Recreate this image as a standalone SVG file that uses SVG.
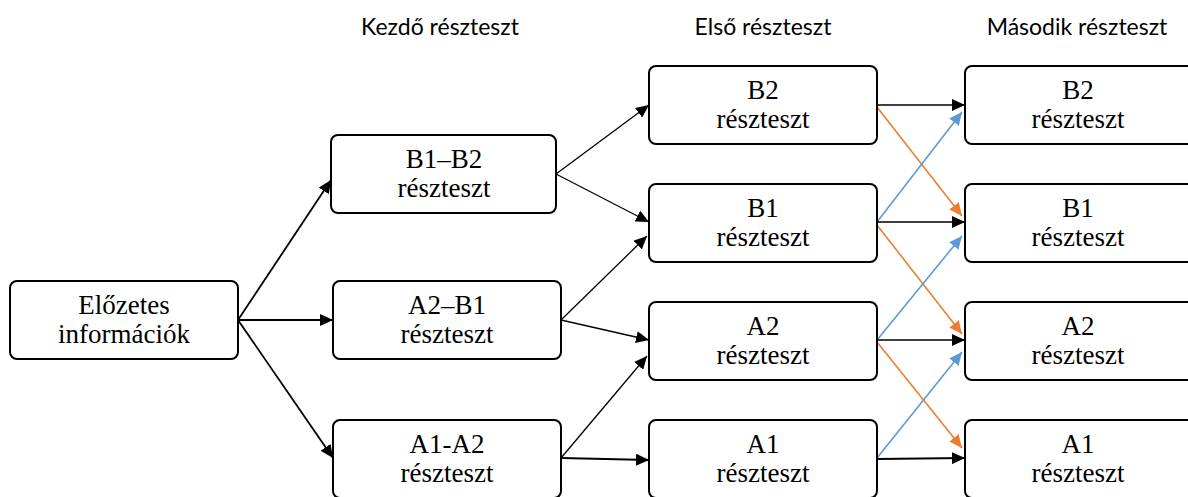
<svg xmlns="http://www.w3.org/2000/svg" width="1188" height="497" viewBox="0 0 1188 497">
<style>
.box{fill:#fff;stroke:#000;stroke-width:2}
.t{font-family:'Liberation Serif','Times New Roman',serif;font-size:27px;fill:#000;text-anchor:middle}
.h{font-family:Lato,'Liberation Sans',sans-serif;font-size:23px;fill:#000;text-anchor:middle}
.k{stroke:#000;stroke-width:1.8;fill:none}
.kt{stroke:#000;stroke-width:1.3;fill:none}
.o{stroke:#ED7D31;stroke-width:1.6;fill:none}
.b{stroke:#5B9BD5;stroke-width:1.6;fill:none}
</style>
<defs>
<marker id="ak" markerUnits="userSpaceOnUse" markerWidth="14" markerHeight="12" refX="13" refY="6" orient="auto"><path d="M0,0 L13,6 L0,12 z" fill="#000"/></marker>
<marker id="ao" markerUnits="userSpaceOnUse" markerWidth="14" markerHeight="12" refX="13" refY="6" orient="auto"><path d="M0,0 L13,6 L0,12 z" fill="#ED7D31"/></marker>
<marker id="ab" markerUnits="userSpaceOnUse" markerWidth="14" markerHeight="12" refX="13" refY="6" orient="auto"><path d="M0,0 L13,6 L0,12 z" fill="#5B9BD5"/></marker>
</defs>
<rect width="1188" height="497" fill="#fff"/>
<g id="headings">
<text class="h" x="440" y="35">Kezdő részteszt</text>
<text class="h" x="763" y="35">Első részteszt</text>
<text class="h" x="1077" y="35">Második részteszt</text>
</g>
<g id="connectors">
<line class="k" x1="238" y1="320" x2="331" y2="180" marker-end="url(#ak)"/>
<line class="k" x1="238" y1="320" x2="333" y2="320" marker-end="url(#ak)"/>
<line class="k" x1="238" y1="320" x2="333" y2="458" marker-end="url(#ak)"/>
<line class="kt" x1="556" y1="174" x2="649" y2="105" marker-end="url(#ak)"/>
<line class="kt" x1="556" y1="174" x2="649" y2="222" marker-end="url(#ak)"/>
<line class="kt" x1="561" y1="320" x2="647" y2="236" marker-end="url(#ak)"/>
<line class="kt" x1="561" y1="320" x2="649" y2="340" marker-end="url(#ak)"/>
<line class="kt" x1="561" y1="458" x2="647" y2="356" marker-end="url(#ak)"/>
<line class="k" x1="561" y1="458" x2="649" y2="460" marker-end="url(#ak)"/>
<line class="kt" x1="877" y1="105" x2="965" y2="105" marker-end="url(#ak)"/>
<line class="o" x1="877" y1="107" x2="962" y2="216" marker-end="url(#ao)"/>
<line class="b" x1="877" y1="222" x2="962" y2="112" marker-end="url(#ab)"/>
<line class="kt" x1="877" y1="222" x2="965" y2="222" marker-end="url(#ak)"/>
<line class="o" x1="877" y1="225" x2="962" y2="334" marker-end="url(#ao)"/>
<line class="b" x1="877" y1="340" x2="962" y2="236" marker-end="url(#ab)"/>
<line class="kt" x1="877" y1="340" x2="965" y2="340" marker-end="url(#ak)"/>
<line class="o" x1="877" y1="342" x2="962" y2="448" marker-end="url(#ao)"/>
<line class="b" x1="877" y1="458" x2="962" y2="352" marker-end="url(#ab)"/>
<line class="k" x1="877" y1="459" x2="965" y2="458" marker-end="url(#ak)"/>
</g>
<g id="elozetes"><rect class="box" x="10" y="281" width="228" height="78" rx="7"/><text class="t" x="124" y="314">Előzetes</text><text class="t" x="124" y="343">információk</text></g>
<g id="k-b1b2"><rect class="box" x="331" y="135" width="225" height="78" rx="7"/><text class="t" x="444" y="168">B1–B2</text><text class="t" x="444" y="197">részteszt</text></g>
<g id="k-a2b1"><rect class="box" x="333" y="281" width="228" height="78" rx="7"/><text class="t" x="447" y="314">A2–B1</text><text class="t" x="447" y="343">részteszt</text></g>
<g id="k-a1a2"><rect class="box" x="333" y="420" width="228" height="78" rx="7"/><text class="t" x="447" y="453">A1-A2</text><text class="t" x="447" y="482">részteszt</text></g>
<g id="e-b2"><rect class="box" x="649" y="66" width="228" height="78" rx="7"/><text class="t" x="763" y="99">B2</text><text class="t" x="763" y="128">részteszt</text></g>
<g id="e-b1"><rect class="box" x="649" y="184" width="228" height="78" rx="7"/><text class="t" x="763" y="217">B1</text><text class="t" x="763" y="246">részteszt</text></g>
<g id="e-a2"><rect class="box" x="649" y="302" width="228" height="78" rx="7"/><text class="t" x="763" y="335">A2</text><text class="t" x="763" y="364">részteszt</text></g>
<g id="e-a1"><rect class="box" x="649" y="420" width="228" height="78" rx="7"/><text class="t" x="763" y="453">A1</text><text class="t" x="763" y="482">részteszt</text></g>
<g id="m-b2"><rect class="box" x="965" y="66" width="232" height="78" rx="7"/><text class="t" x="1078" y="99">B2</text><text class="t" x="1078" y="128">részteszt</text></g>
<g id="m-b1"><rect class="box" x="965" y="184" width="232" height="78" rx="7"/><text class="t" x="1078" y="217">B1</text><text class="t" x="1078" y="246">részteszt</text></g>
<g id="m-a2"><rect class="box" x="965" y="302" width="232" height="78" rx="7"/><text class="t" x="1078" y="335">A2</text><text class="t" x="1078" y="364">részteszt</text></g>
<g id="m-a1"><rect class="box" x="965" y="420" width="232" height="78" rx="7"/><text class="t" x="1078" y="453">A1</text><text class="t" x="1078" y="482">részteszt</text></g>
</svg>
